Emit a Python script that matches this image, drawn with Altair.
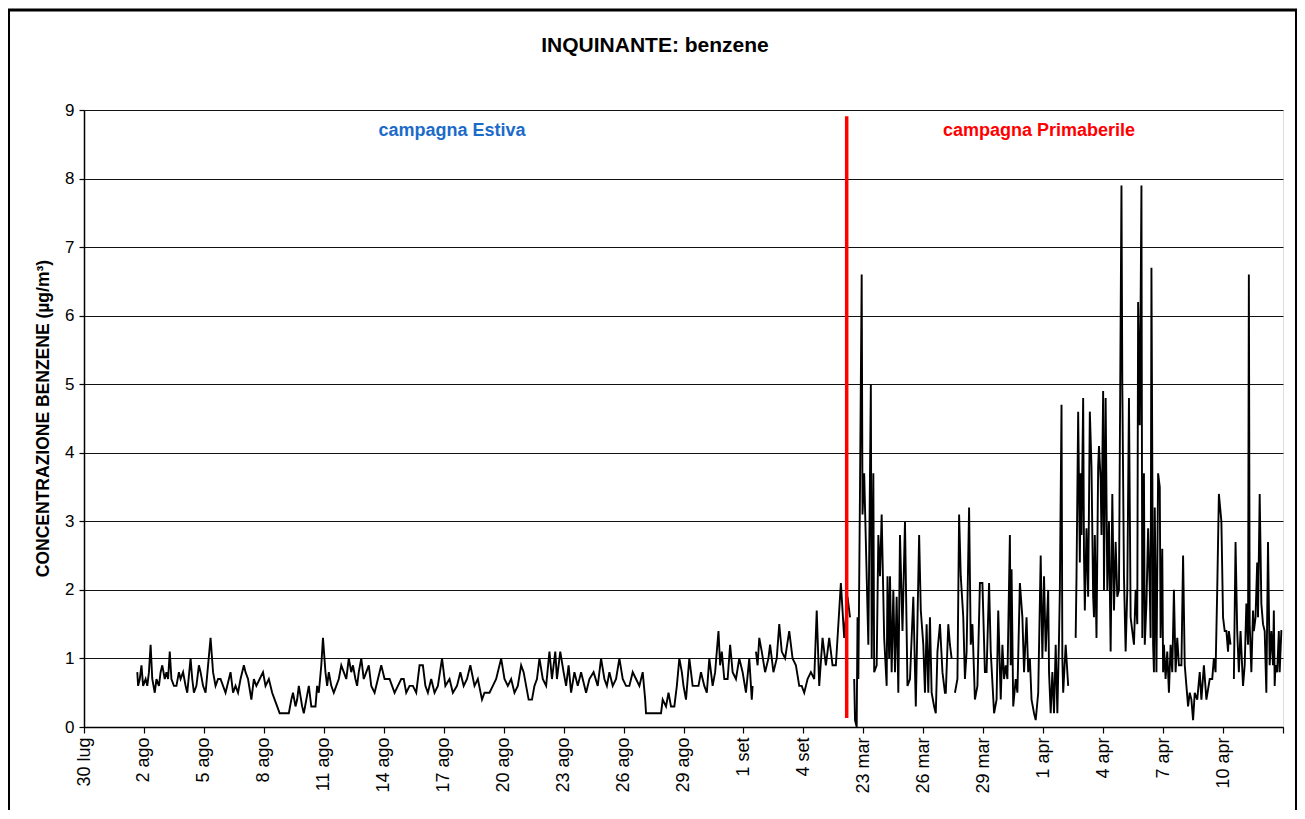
import altair as alt
import pandas as pd

TITLE = "INQUINANTE: benzene"
Y_TITLE = "CONCENTRAZIONE BENZENE (µg/m³)"
FONT = "Liberation Sans, Arial, sans-serif"

# x axis: hour index from 30 lug 00:00, a label every 72 hours (3 days)
tick_labels = ["30 lug", "2 ago", "5 ago", "8 ago", "11 ago", "14 ago", "17 ago",
               "20 ago", "23 ago", "26 ago", "29 ago", "1 set", "4 set",
               "23 mar", "26 mar", "29 mar", "1 apr", "4 apr", "7 apr", "10 apr", ""]
tick_step = 72
y_ticks = [0, 1, 2, 3, 4, 5, 6, 7, 8, 9]

# (hour index, benzene µg/m³); None = missing data
summer = [
    (64, 0.8), (65, 0.6), (67, 0.7), (69, 0.9), (71, 0.6), (74, 0.7), (76, 0.6), (78, 0.8), (80, 1.2), (82, 0.7),
    (85, 0.5), (87, 0.7), (90, 0.6), (92, 0.8), (94, 0.9), (97, 0.7), (99, 0.8), (101, 0.7), (103, 1.1), (105, 0.7),
    (108, 0.6), (111, 0.6), (114, 0.8), (116, 0.7), (119, 0.8), (122, 0.6), (124, 0.5), (128, 1.0), (130, 0.7), (132, 0.5),
    (135, 0.6), (138, 0.9), (140, 0.8), (143, 0.6), (146, 0.5), (149, 0.9), (152, 1.3), (155, 0.8), (158, 0.6), (161, 0.7),
    (164, 0.7), (167, 0.6), (170, 0.5), (174, 0.7), (176, 0.8), (179, 0.5), (182, 0.6), (185, 0.5), (188, 0.7), (192, 0.9),
    (194, 0.8), (197, 0.7), (201, 0.4), (204, 0.7), (207, 0.6), (211, 0.7), (215, 0.8), (218, 0.6), (222, 0.7), (226, 0.5),
    (229, 0.4), (232, 0.3), (235, 0.2), (246, 0.2), (249, 0.4), (251, 0.5), (254, 0.3), (256, 0.4), (258, 0.6), (262, 0.3),
    (264, 0.2), (267, 0.4), (270, 0.6), (273, 0.3), (278, 0.3), (280, 0.6), (282, 0.5), (285, 0.9), (287, 1.3), (290, 0.8),
    (292, 0.6), (294, 0.8), (297, 0.6), (300, 0.5), (303, 0.6), (306, 0.7), (309, 0.9), (312, 0.8), (315, 0.7), (318, 1.0),
    (321, 0.8), (323, 0.9), (326, 0.7), (328, 0.6), (330, 0.8), (333, 1.0), (336, 0.7), (339, 0.8), (342, 0.9), (345, 0.6),
    (349, 0.5), (353, 0.7), (357, 0.9), (361, 0.7), (367, 0.7), (370, 0.6), (373, 0.5), (377, 0.6), (381, 0.7), (384, 0.7),
    (387, 0.5), (391, 0.6), (395, 0.6), (399, 0.5), (403, 0.9), (407, 0.9), (410, 0.6), (413, 0.5), (417, 0.7), (421, 0.5),
    (425, 0.6), (430, 1.0), (434, 0.6), (439, 0.7), (443, 0.5), (448, 0.6), (452, 0.8), (456, 0.6), (460, 0.7), (464, 0.9),
    (469, 0.6), (473, 0.7), (478, 0.4), (481, 0.5), (487, 0.5), (491, 0.6), (495, 0.7), (501, 1.0), (505, 0.7), (509, 0.6),
    (513, 0.7), (517, 0.5), (521, 0.6), (525, 0.9), (528, 0.8), (531, 0.6), (534, 0.4), (538, 0.4), (541, 0.6), (544, 0.7),
    (547, 1.0), (551, 0.7), (555, 0.6), (559, 1.1), (562, 0.7), (566, 1.1), (568, 0.7), (572, 1.1), (576, 0.8), (579, 0.6),
    (582, 0.9), (585, 0.5), (589, 0.8), (593, 0.6), (597, 0.8), (603, 0.5), (607, 0.7), (612, 0.8), (617, 0.6), (621, 1.0),
    (625, 0.7), (628, 0.6), (631, 0.8), (635, 0.6), (639, 0.7), (643, 1.0), (647, 0.7), (651, 0.6), (655, 0.6), (659, 0.8),
    (663, 0.7), (667, 0.6), (671, 0.8), (674, 0.4), (675, 0.2), (693, 0.2), (695, 0.4), (699, 0.3), (702, 0.5), (705, 0.3),
    (709, 0.3), (712, 0.6), (715, 1.0), (718, 0.8), (720, 0.6), (723, 0.4), (727, 1.0), (731, 0.6), (735, 0.6), (738, 0.6),
    (741, 0.8), (745, 0.6), (748, 0.5), (751, 1.0), (755, 0.6), (758, 0.8), (762, 1.4), (764, 0.9), (766, 1.1), (769, 0.7),
    (773, 0.7), (776, 1.2), (779, 0.8), (783, 0.7), (787, 1.0), (791, 0.8), (795, 0.5), (799, 1.0), (802, 0.4), (803, 0.6),
    (805, None),
    (807, 1.1), (809, 0.9), (811, 1.3), (814, 1.1), (818, 0.8), (822, 1.0), (824, 1.2), (828, 0.8), (832, 1.0), (835, 1.5),
    (838, 1.1), (842, 1.0), (847, 1.4), (851, 1.0), (855, 0.9), (859, 0.6), (862, 0.6), (865, 0.5), (869, 0.7), (873, 0.8),
    (877, 0.7), (880, 1.7), (883, 0.6), (887, 1.3), (891, 0.9), (895, 1.3), (899, 0.9), (903, 0.9), (909, 2.1), (913, 1.3),
    (917, 1.9), (920, 1.6),
]

spring = [
    (925, 0.7), (926, 0.1), (928, 0.0), (929, 1.6), (930, 0.7), (932, 3.5), (934, 6.6), (935, 3.1), (937, 3.7), (940, 2.2),
    (942, 1.2), (945, 5.0), (946, 1.0), (948, 3.7), (949, 0.8), (952, 0.9), (954, 2.8), (956, 2.2), (958, 3.1), (961, 1.3),
    (964, 0.6), (965, 2.2), (967, 1.0), (968, 2.2), (970, 0.8), (972, 2.0), (974, 0.8), (976, 1.9), (978, 0.5), (980, 2.8),
    (983, 1.4), (986, 3.0), (989, 0.6), (992, 0.7), (996, 1.9), (999, 0.3), (1003, 2.8), (1005, 1.7), (1008, 1.2), (1010, 0.5),
    (1012, 1.5), (1014, 0.5), (1016, 1.6), (1018, 0.5), (1021, 0.3), (1023, 0.2), (1025, 1.1), (1028, 1.5), (1031, 0.8), (1034, 0.5),
    (1035, 0.5), (1038, 1.5), (1040, 1.2), (1042, 1.0),
    (1044, None),
    (1046, 0.5), (1049, 0.7), (1051, 3.1), (1053, 2.2), (1056, 1.6), (1058, 0.7), (1060, 1.1), (1063, 3.2), (1065, 1.2), (1067, 1.5),
    (1070, 0.4), (1073, 0.6), (1076, 2.1), (1079, 2.1), (1082, 0.8), (1084, 0.8), (1087, 2.1), (1089, 1.1), (1093, 0.2), (1096, 0.4),
    (1098, 1.7), (1101, 0.4), (1103, 1.2), (1105, 0.7), (1107, 0.9), (1109, 0.7), (1112, 2.8), (1113, 0.9), (1114, 2.3), (1116, 0.3),
    (1119, 0.7), (1121, 0.5), (1124, 2.1), (1127, 1.6), (1129, 0.8), (1132, 1.6), (1134, 0.8), (1136, 1.0), (1138, 0.4), (1141, 0.2),
    (1143, 0.1), (1146, 0.5), (1149, 2.5), (1151, 1.0), (1153, 2.2), (1155, 1.1), (1158, 2.0), (1159, 0.8), (1161, 0.2), (1163, 0.8),
    (1165, 0.2), (1167, 1.2), (1169, 0.2), (1171, 1.3), (1172, 2.0), (1174, 4.7), (1175, 1.0), (1176, 0.5), (1179, 1.2), (1182, 0.6),
    (1186, None),
    (1191, 1.3), (1192, 2.2), (1194, 4.6), (1196, 2.4), (1197, 3.7), (1198, 2.8), (1200, 4.8), (1201, 2.5), (1202, 1.7), (1204, 2.9),
    (1206, 1.9), (1208, 4.6), (1210, 3.8), (1212, 1.9), (1213, 1.6), (1214, 2.8), (1216, 1.3), (1218, 3.8), (1219, 4.1), (1221, 3.6),
    (1222, 2.8), (1224, 4.9), (1225, 2.0), (1227, 4.8), (1229, 2.0), (1231, 3.0), (1233, 1.1), (1235, 3.4), (1237, 1.7), (1239, 2.7),
    (1241, 1.9), (1243, 2.0), (1246, 7.9), (1247, 5.0), (1249, 2.2), (1251, 1.1), (1253, 2.0), (1255, 4.8), (1257, 1.6), (1259, 1.4),
    (1261, 1.2), (1263, 2.0), (1265, 1.5), (1266, 6.2), (1268, 4.4), (1270, 7.9), (1271, 1.3), (1273, 3.7), (1274, 1.2), (1276, 1.8),
    (1278, 2.9), (1280, 2.0), (1281, 1.3), (1282, 6.7), (1284, 1.2), (1285, 0.8), (1286, 3.2), (1288, 0.8), (1290, 3.7), (1292, 3.5),
    (1293, 1.3), (1295, 2.6), (1296, 0.8), (1297, 1.2), (1299, 0.7), (1301, 1.1), (1303, 0.5), (1305, 1.2), (1307, 0.8), (1309, 2.0),
    (1311, 0.8), (1313, 1.3), (1315, 0.9), (1318, 0.9), (1320, 2.5), (1322, 0.9), (1324, 0.6), (1326, 0.3), (1328, 0.5), (1330, 0.4),
    (1332, 0.1), (1334, 0.5), (1337, 0.4), (1340, 0.8), (1342, 0.4), (1345, 0.9), (1348, 0.4), (1352, 0.7), (1355, 0.7), (1357, 1.0),
    (1359, 0.8), (1361, 2.0), (1363, 3.4), (1366, 3.0), (1368, 1.6), (1370, 1.4), (1372, 1.4), (1374, 1.1), (1375, 1.4), (1377, 1.2),
    (1379, None),
    (1381, 0.7), (1383, 2.7), (1385, 1.4), (1387, 0.8), (1389, 1.4), (1392, 0.6), (1394, 0.9), (1396, 1.8), (1398, 1.2), (1399, 6.6),
    (1400, 1.5), (1402, 0.8), (1404, 1.7), (1405, 1.4), (1407, 1.6), (1409, 2.4), (1410, 1.6), (1412, 3.4), (1414, 1.8), (1416, 1.5),
    (1418, 1.4), (1420, 0.5), (1422, 2.7), (1424, 0.9), (1426, 1.4), (1428, 0.9), (1429, 1.7), (1430, 0.6), (1431, 0.9), (1433, 0.8),
    (1435, 1.4), (1436, 0.8), (1438, 1.4), (1439, 1.4),
]

# campaign separator and labels
split_hour = [916]
split_from = [0.13]
split_to = [8.91]
label_text = ["campagna Estiva", "campagna Primaberile"]
label_hour = [442, 1147]
label_value = [8.69, 8.69]
label_color = ["#1B6AC9", "#FF0000"]

# ---- build table with a segment id so missing data breaks the line ----
rows = []
seg = 0
for block in (summer, spring):
    seg += 1
    for h, v in block:
        if v is None:
            seg += 1
            continue
        rows.append({"hour": h, "value": v, "seg": seg})
df = pd.DataFrame(rows)

n_ticks = len(tick_labels)
tick_values = [i * tick_step for i in range(n_ticks)]
label_js = "[" + ",".join("'" + t + "'" for t in tick_labels) + "]"

x_enc = alt.X(
    "hour:Q",
    scale=alt.Scale(domain=[0, tick_values[-1]], nice=False, zero=False),
    axis=alt.Axis(
        values=tick_values,
        labelExpr=label_js + "[round(datum.value/" + str(tick_step) + ")]",
        labelAngle=270, labelAlign="right", labelBaseline="middle",
        labelFontSize=18, labelFont=FONT, labelColor="black",
        labelPadding=4, labelOverlap=False, labelFlush=False, labelBound=False,
        tickSize=6, tickColor="black", tickWidth=1.2,
        domainColor="black", domainWidth=1.5, grid=False, title=None,
    ),
)
y_enc = alt.Y(
    "value:Q",
    scale=alt.Scale(domain=[0, 9], nice=False),
    axis=alt.Axis(
        values=y_ticks, format="d",
        labelFontSize=17, labelFont=FONT, labelColor="black", labelPadding=5,
        tickSize=5, tickColor="black", tickWidth=1.2,
        domainColor="black", domainWidth=1.5,
        grid=True, gridColor="#111111", gridWidth=1,
        title=Y_TITLE, titleFont=FONT, titleFontSize=17.5, titleFontWeight="bold",
        titleColor="black", titleAngle=270, titleAlign="center", titleBaseline="middle",
        titleX=-41, titleY=308,
    ),
)

line = alt.Chart(df).mark_line(color="black", strokeWidth=1.9).encode(
    x=x_enc, y=y_enc, detail="seg:N"
)

split_df = pd.DataFrame({"hour": split_hour, "value": split_from, "value2": split_to})
split = alt.Chart(split_df).mark_rule(color="#FF0000", strokeWidth=3.5).encode(
    x="hour:Q", y="value:Q", y2="value2:Q"
)

lab_df = pd.DataFrame({"hour": label_hour, "value": label_value,
                       "text": label_text, "color": label_color})
labels = alt.Chart(lab_df).mark_text(
    fontSize=18, fontWeight="bold", font=FONT, align="center", baseline="middle"
).encode(
    x="hour:Q", y="value:Q", text="text:N", color=alt.Color("color:N", scale=None)
)

title = alt.Chart(pd.DataFrame({"t": [TITLE]})).mark_text(
    fontSize=21, fontWeight="bold", font=FONT, align="center", baseline="middle", color="black"
).encode(x=alt.value(571), y=alt.value(-64), text="t:N")

# outer frame of the figure
frame_top = alt.Chart(pd.DataFrame({"k": [0]})).mark_rule(color="black", strokeWidth=3).encode(
    x=alt.value(-76), x2=alt.value(1213), y=alt.value(-100)
)
frame_left = alt.Chart(pd.DataFrame({"k": [0]})).mark_rule(color="black", strokeWidth=2).encode(
    x=alt.value(-75), y=alt.value(-100), y2=alt.value(700)
)
frame_right = alt.Chart(pd.DataFrame({"k": [0]})).mark_rule(color="black", strokeWidth=2).encode(
    x=alt.value(1212), y=alt.value(-100), y2=alt.value(700)
)

chart = alt.layer(line, split, labels, title, frame_top, frame_left, frame_right).properties(
    width=1199, height=617,
    padding={"left": 76, "top": 102, "right": 14, "bottom": 84},
    autosize=alt.AutoSizeParams(type="none"),
    background="white",
).configure_view(
    fill="#FFCC99", stroke="#808080", strokeWidth=1.5
).configure(
    font=FONT
)

chart.save("out.html", embed_options={"renderer": "svg", "actions": False})
